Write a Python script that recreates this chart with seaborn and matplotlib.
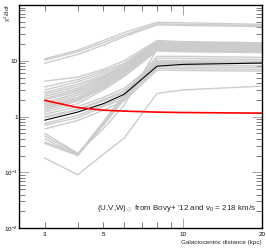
import numpy as np
import pandas as pd
import seaborn as sns
import matplotlib.pyplot as plt
import matplotlib.ticker as ticker
from matplotlib import font_manager

# galactocentric distances (kpc) where chi2/dof was evaluated
dist = [3, 4, 5, 6, 8, 10, 20]

# grey curves
gray_top = [
    [10.8, 15.5, 23, 32, 49, 48, 45],
    [10.2, 14.5, 21, 29, 46, 45, 43],
    [9.0, 13, 19, 27, 44, 43, 41],
]
gray_mid = [
    [4.3, 5.1, 7, 10, 23, 22, 21],
    [3.4, 4.6, 6.5, 9, 22, 21.5, 20.5],
    [3.0, 4.2, 6, 8.5, 21, 20.5, 20],
    [2.7, 3.8, 5.5, 8, 20.5, 20, 19.5],
    [2.5, 3.5, 5.2, 7.8, 20, 19.5, 19],
    [2.3, 3.2, 5, 7.5, 19.5, 19, 18.5],
    [2.1, 3.0, 4.7, 7.2, 19, 18.5, 18],
    [2.0, 2.8, 4.4, 7, 18.5, 18, 17.5],
    [1.8, 2.6, 4.2, 6.8, 18, 17.5, 17],
    [1.7, 2.4, 4, 6.5, 17.5, 17, 16.5],
    [1.6, 2.2, 3.8, 6.2, 17, 16.5, 16],
    [1.5, 2.1, 3.6, 6, 16.5, 16, 15.5],
    [1.4, 2.0, 3.4, 5.8, 16, 15.5, 15],
    [1.3, 1.9, 3.2, 5.5, 15.5, 15, 14.5],
    [1.2, 1.7, 3, 5.2, 15, 14.5, 14],
]
gray_low = [
    [1.1, 1.5, 2.2, 3.2, 9.5, 9.5, 9.5],
    [1.0, 1.35, 2.0, 2.9, 9.0, 9.0, 9.0],
    [0.95, 1.3, 1.9, 2.7, 8.5, 8.3, 8.2],
    [0.75, 1.05, 1.6, 2.3, 7.8, 7.7, 7.6],
    [0.7, 0.95, 1.5, 2.1, 7.3, 7.2, 7.0],
    [0.6, 0.85, 1.3, 1.9, 6.8, 6.7, 6.5],
]
gray_dip = [
    [0.5, 0.22, 0.6, 1.6, 16, 15.5, 15],
    [0.45, 0.21, 0.8, 2.5, 12, 12, 11.5],
    [0.4, 0.2, 0.75, 2.3, 10, 10, 9.8],
    [0.35, 0.21, 0.7, 2.0, 9.5, 9.3, 9.0],
    [0.33, 0.2, 0.7, 2.1, 11, 11, 10.5],
    [0.18, 0.09, 0.21, 0.41, 2.6, 3.0, 3.5],
]
black_line = [0.86, 1.2, 1.7, 2.5, 8.0, 8.6, 9.1]
red_line = [1.95, 1.45, 1.3, 1.25, 1.2, 1.18, 1.15]

# long table for the grey curves
rows = []
for i, vals in enumerate(gray_top + gray_mid + gray_low + gray_dip):
    for d, v in zip(dist, vals):
        rows.append({'dist': d, 'chi2': v, 'run': i})
grey_df = pd.DataFrame(rows)
black_df = pd.DataFrame({'dist': dist, 'chi2': black_line})
red_df = pd.DataFrame({'dist': dist, 'chi2': red_line})

sns.set_style("ticks")
names = {f.name for f in font_manager.fontManager.ttflist}
narrow = 'Liberation Sans Narrow' if 'Liberation Sans Narrow' in names else 'Liberation Sans'
plt.rcParams['font.family'] = [narrow, 'DejaVu Sans']
plt.rcParams['mathtext.fontset'] = 'custom'
plt.rcParams['mathtext.rm'] = narrow
plt.rcParams['mathtext.it'] = narrow

fig = plt.figure(figsize=(2.66, 2.49), dpi=100)
ax = fig.add_axes([0.072, 0.084, 0.913, 0.896])

sns.lineplot(data=grey_df, x='dist', y='chi2', units='run', estimator=None,
             color='#cccccc', linewidth=1.0, ax=ax)
sns.lineplot(data=black_df, x='dist', y='chi2', color='black', linewidth=0.8, ax=ax)
sns.lineplot(data=red_df, x='dist', y='chi2', color='red', linewidth=1.2, ax=ax)

ax.set_xscale('log')
ax.set_yscale('log')
ax.set_xlim(2.4, 20)
ax.set_ylim(0.01, 100)

ax.xaxis.set_major_locator(ticker.FixedLocator([10, 20]))
ax.xaxis.set_minor_locator(ticker.FixedLocator([3, 4, 5, 6, 7, 8, 9]))
ax.xaxis.set_major_formatter(ticker.FuncFormatter(lambda v, p: '%g' % v))
ax.xaxis.set_minor_formatter(ticker.FuncFormatter(lambda v, p: '%g' % v if v in (3, 5) else ''))

ylabels = {0.01: '10$^{-2}$', 0.1: '10$^{-1}$', 1: '1', 10: '10', 100: ''}
ax.yaxis.set_major_locator(ticker.LogLocator(base=10, numticks=10))
ax.yaxis.set_minor_locator(ticker.LogLocator(base=10, subs=np.arange(2, 10), numticks=20))
ax.yaxis.set_major_formatter(ticker.FuncFormatter(
    lambda v, p: ylabels.get(round(v, 3), '')))
ax.yaxis.set_minor_formatter(ticker.NullFormatter())

ax.tick_params(which='both', direction='in', top=True, right=True,
               labelsize=4.5, width=0.6, colors='black')
ax.tick_params(axis='y', which='both', pad=1.2)
ax.tick_params(axis='x', which='both', pad=3)
ax.tick_params(which='major', length=7, color='#999999')
ax.tick_params(which='minor', length=4, color='#666666')
for s in ax.spines.values():
    s.set_linewidth(1.0)
    s.set_color('black')

ax.set_xlabel('Galactocentric distance (kpc)', fontsize=4.5, loc='right', labelpad=2)
ax.set_ylabel('')
fig.text(0.01, 0.985, r'$\chi^2$/dof', fontsize=4.5, rotation=90, ha='left', va='top')

ax.text(0.32, 0.09, r"(U,V,W)$_\odot$ from Bovy+ '12 and v$_0$ = 218 km/s",
        transform=ax.transAxes, fontsize=5.8, va='center', ha='left')

fig.savefig('out.png', dpi=100)
